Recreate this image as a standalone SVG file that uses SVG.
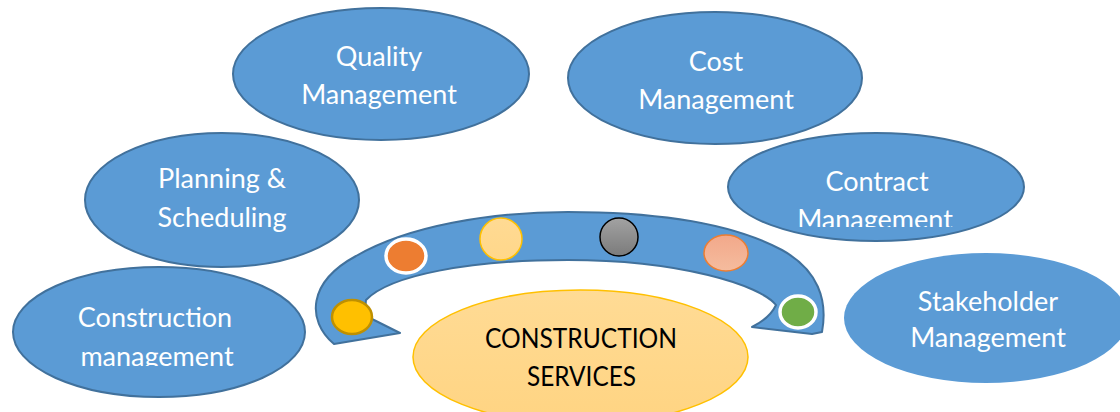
<svg xmlns="http://www.w3.org/2000/svg" width="1120" height="412" viewBox="0 0 1120 412">
  <style>
    .node { fill: #5B9BD5; stroke: #41719C; stroke-width: 2; }
    .nostroke { fill: #5B9BD5; stroke: none; }
    .lbl { font-family: Lato, "Open Sans", "Liberation Sans", sans-serif; font-size: 27px; fill: #FFFFFF; text-anchor: middle; }
    .center-lbl { font-family: Lato, "Open Sans", "Liberation Sans", sans-serif; font-size: 27px; fill: #000000; text-anchor: middle; }
    .band { fill: #5B9BD5; stroke: #41719C; stroke-width: 2; stroke-linejoin: round; }
  </style>
  <defs>
    <linearGradient id="gGray" x1="0" y1="0" x2="0" y2="1">
      <stop offset="0" stop-color="#A2A2A2"/>
      <stop offset="1" stop-color="#7B7B7B"/>
    </linearGradient>
    <linearGradient id="gSalmon" x1="0" y1="0" x2="0" y2="1">
      <stop offset="0" stop-color="#F2A88A"/>
      <stop offset="1" stop-color="#F5BC9E"/>
    </linearGradient>
    <linearGradient id="gLight" x1="0" y1="0" x2="0" y2="1">
      <stop offset="0" stop-color="#FFDA93"/>
      <stop offset="1" stop-color="#FFD78A"/>
    </linearGradient>
    <linearGradient id="gCenter" x1="0" y1="0" x2="0" y2="1">
      <stop offset="0" stop-color="#FFDB95"/>
      <stop offset="1" stop-color="#FFD482"/>
    </linearGradient>
    <clipPath id="clipContract"><rect x="700" y="130" width="360" height="97"/></clipPath>
    <clipPath id="clipCM"><rect x="0" y="260" width="320" height="106"/></clipPath>
  </defs>

  <g id="quality-management">
    <ellipse class="node" cx="381" cy="74" rx="148" ry="66"/>
    <text class="lbl" x="379" y="66">Quality</text>
    <text class="lbl" x="379" y="104">Management</text>
  </g>

  <g id="cost-management">
    <ellipse class="node" cx="715" cy="78" rx="147" ry="66"/>
    <text class="lbl" x="716" y="71">Cost</text>
    <text class="lbl" x="716" y="109">Management</text>
  </g>

  <g id="planning-scheduling">
    <ellipse class="node" cx="222" cy="200" rx="137" ry="67"/>
    <text class="lbl" x="222" y="188">Planning &amp;</text>
    <text class="lbl" x="222" y="227">Scheduling</text>
  </g>

  <g id="contract-management">
    <ellipse class="node" cx="876" cy="187" rx="148" ry="54"/>
    <g clip-path="url(#clipContract)">
      <text class="lbl" x="877" y="191">Contract</text>
      <text class="lbl" x="875" y="229">Management</text>
    </g>
  </g>

  <g id="construction-management">
    <ellipse class="node" cx="159" cy="332" rx="146" ry="65"/>
    <g clip-path="url(#clipCM)">
      <text class="lbl" x="155" y="327">Construction</text>
      <text class="lbl" x="157" y="366">management</text>
    </g>
  </g>

  <g id="stakeholder-management">
    <ellipse class="nostroke" cx="986" cy="318" rx="142" ry="65"/>
    <text class="lbl" x="988" y="311">Stakeholder</text>
    <text class="lbl" x="988" y="347">Management</text>
  </g>

  <g id="connectors">
    <path class="band" d="M 334 344 C 306 320 308 282 356 256 C 408 226 490 212 568 212 C 650 212 730 222 782 250 C 818 270 828 300 822 332 L 812 334 L 752 327 Q 770 318 776 305 C 760 285 680 260 568 260 C 470 260 390 275 366 300 Q 364 314 374 320 L 400 333 Z"/>
    <ellipse cx="352" cy="317" rx="20" ry="17" fill="#FFC000" stroke="#BF9000" stroke-width="2.5"/>
    <ellipse cx="406" cy="256" rx="20" ry="17" fill="#ED7D31" stroke="#FFFFFF" stroke-width="3.5"/>
    <circle cx="501" cy="239" r="21" fill="url(#gLight)" stroke="#FFC000" stroke-width="1.5"/>
    <circle cx="619" cy="237" r="19" fill="url(#gGray)" stroke="#000000" stroke-width="1.5"/>
    <ellipse cx="726" cy="253" rx="22" ry="18" fill="url(#gSalmon)" stroke="#ED7D31" stroke-width="1.5"/>
    <ellipse cx="798" cy="312" rx="18" ry="16" fill="#70AD47" stroke="#FFFFFF" stroke-width="3.5"/>
  </g>

  <g id="construction-services">
    <ellipse cx="580.5" cy="357" rx="167.5" ry="67" fill="url(#gCenter)" stroke="#FFC000" stroke-width="1.5"/>
    <text class="center-lbl" x="581" y="348" textLength="192" lengthAdjust="spacingAndGlyphs">CONSTRUCTION</text>
    <text class="center-lbl" x="581.5" y="386" textLength="109" lengthAdjust="spacingAndGlyphs">SERVICES</text>
  </g>
</svg>
